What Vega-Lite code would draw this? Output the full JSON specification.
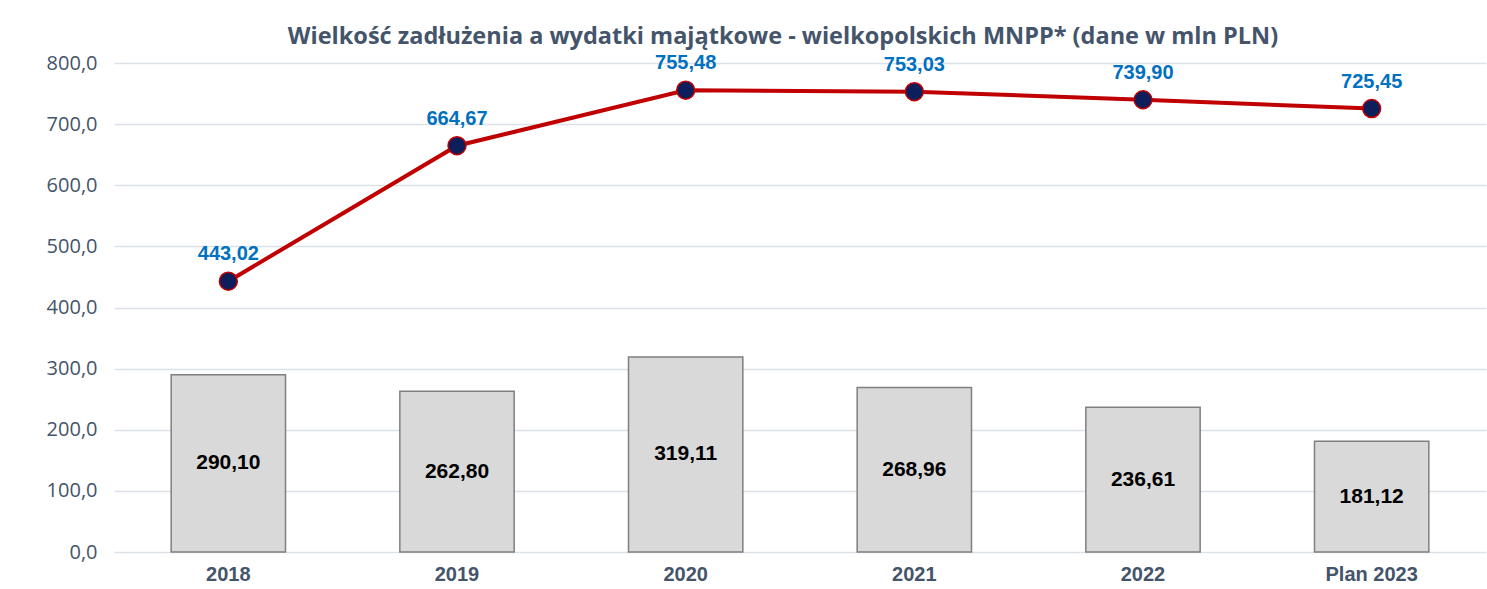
{
  "$schema": "https://vega.github.io/schema/vega-lite/v6.json",
  "width": 1372,
  "height": 489,
  "autosize": "none",
  "padding": {"left": 114, "top": 63, "right": 1, "bottom": 37},
  "background": "white",
  "config": {
    "view": {"stroke": null},
    "locale": {"number": {"decimal": ",", "thousands": " ", "grouping": [3], "currency": ["", " zł"]}}
  },
  "title": {
    "text": "Wielkość zadłużenia a wydatki majątkowe - wielkopolskich MNPP*  (dane w mln PLN)",
    "font": "Open Sans",
    "fontSize": 23.5,
    "fontWeight": "bold",
    "color": "#44546A",
    "anchor": "middle",
    "offset": 5,
    "dx": -17
  },
  "data": {
    "values": [
      {"rok": "2018", "zadluzenie": 443.02, "wydatki": 290.10},
      {"rok": "2019", "zadluzenie": 664.67, "wydatki": 262.80},
      {"rok": "2020", "zadluzenie": 755.48, "wydatki": 319.11},
      {"rok": "2021", "zadluzenie": 753.03, "wydatki": 268.96},
      {"rok": "2022", "zadluzenie": 739.90, "wydatki": 236.61},
      {"rok": "Plan 2023", "zadluzenie": 725.45, "wydatki": 181.12}
    ]
  },
  "encoding": {
    "x": {
      "field": "rok",
      "type": "nominal",
      "sort": null,
      "scale": {"paddingInner": 0.5, "paddingOuter": 0.25},
      "axis": {
        "title": null,
        "labelAngle": 0,
        "labelFont": "Liberation Sans",
        "labelFontSize": 20,
        "labelFontWeight": "bold",
        "labelColor": "#44546A",
        "labelPadding": 12,
        "ticks": false,
        "domain": false
      }
    }
  },
  "layer": [
    {
      "mark": {"type": "bar", "fill": "#D9D9D9", "stroke": "#7F7F7F", "strokeWidth": 1.5},
      "encoding": {
        "y": {
          "field": "wydatki",
          "type": "quantitative",
          "scale": {"domain": [0, 800]},
          "axis": {
            "title": null,
            "values": [0, 100, 200, 300, 400, 500, 600, 700, 800],
            "format": ".1f",
            "labelFont": "Open Sans",
            "labelFontSize": 20,
            "labelColor": "#44546A",
            "labelPadding": 17,
            "labelOverlap": false,
            "ticks": false,
            "domain": false,
            "gridColor": "#DCE1E8",
            "gridWidth": 1.5
          }
        }
      }
    },
    {
      "mark": {"type": "text", "font": "Liberation Sans", "fontSize": 21, "fontWeight": "bold", "color": "#000000", "baseline": "middle"},
      "encoding": {
        "y": {"field": "mid", "type": "quantitative"},
        "text": {"field": "wydatki", "type": "quantitative", "format": ".2f"}
      },
      "transform": [{"calculate": "datum.wydatki / 2", "as": "mid"}]
    },
    {
      "mark": {"type": "line", "color": "#C00000", "strokeWidth": 4},
      "encoding": {
        "y": {"field": "zadluzenie", "type": "quantitative"}
      }
    },
    {
      "mark": {"type": "point", "filled": true, "fill": "#0C1E5B", "stroke": "#C00000", "strokeWidth": 1.5, "size": 320, "opacity": 1},
      "encoding": {
        "y": {"field": "zadluzenie", "type": "quantitative"}
      }
    },
    {
      "mark": {"type": "text", "font": "Liberation Sans", "fontSize": 20, "fontWeight": "bold", "color": "#0070C0", "baseline": "middle", "dy": -27},
      "encoding": {
        "y": {"field": "zadluzenie", "type": "quantitative"},
        "text": {"field": "zadluzenie", "type": "quantitative", "format": ".2f"}
      }
    }
  ]
}
